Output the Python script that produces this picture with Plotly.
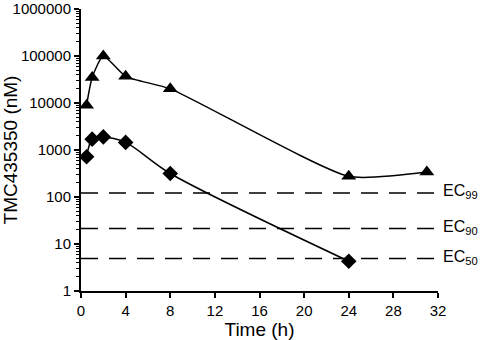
import math
import plotly.graph_objects as go

time_high = [0.5, 1, 2, 4, 8, 24, 31]
conc_high = [9000, 35000, 100000, 37000, 20000, 275, 340]
time_low = [0.5, 1, 2, 4, 8, 24]
conc_low = [720, 1700, 1900, 1450, 316, 4.3]
ec_names = ["EC<sub>99</sub>", "EC<sub>90</sub>", "EC<sub>50</sub>"]
ec_values = [122, 21.5, 4.9]
ec_span = [0, 32]
y_tickvals = [1, 10, 100, 1000, 10000, 100000, 1000000]
y_ticktext = ["1", "10", "100", "1000", "10000", "100000", "1000000"]
y_minor_ticks = [m * 10 ** e for e in range(6) for m in range(2, 10)]
x_tickvals = [0, 4, 8, 12, 16, 20, 24, 28, 32]

fig = go.Figure()
for v in ec_values:
    fig.add_trace(go.Scatter(x=ec_span, y=[v, v], mode="lines",
                             line=dict(color="black", width=1.5, dash="17px,11px"),
                             showlegend=False, hoverinfo="skip"))
fig.add_trace(go.Scatter(x=time_high, y=conc_high, mode="lines+markers",
                         line=dict(color="black", width=1.5, shape="spline", smoothing=0.55),
                         marker=dict(symbol="triangle-up", size=13, color="black"),
                         showlegend=False))
fig.add_trace(go.Scatter(x=time_low, y=conc_low, mode="lines+markers",
                         line=dict(color="black", width=1.5, shape="spline", smoothing=0.8),
                         marker=dict(symbol="diamond", size=12, color="black"),
                         showlegend=False))
for name, v in zip(ec_names, ec_values):
    fig.add_annotation(x=32, y=math.log10(v), yref="y", xref="x", text=name, showarrow=False,
                       xanchor="left", xshift=3, yshift=1,
                       font=dict(family="Liberation Sans, Arial", size=16, color="black"))

fig.update_layout(
    width=480, height=340,
    margin=dict(l=81, r=42, t=9, b=49),
    paper_bgcolor="white", plot_bgcolor="white",
    font=dict(family="Liberation Sans, Arial", size=15, color="black"),
    xaxis=dict(range=[0, 32], tickvals=x_tickvals, showline=True, linecolor="black",
               linewidth=2, ticks="outside", ticklen=5, tickwidth=1.5, tickcolor="black",
               showgrid=False, zeroline=False, automargin=False,
               title=dict(text="Time (h)", font=dict(size=19), standoff=6)),
    yaxis=dict(type="log", range=[0, 6], tickmode="array", tickvals=y_tickvals,
               ticktext=y_ticktext, showline=True, linecolor="black", linewidth=2,
               ticks="outside", ticklen=5, tickwidth=1.5, tickcolor="black",
               showgrid=False, zeroline=False, automargin=False,
               minor=dict(tickmode="array", tickvals=y_minor_ticks, ticks="outside",
                          ticklen=3, tickwidth=1, tickcolor="black", showgrid=False),
               title=dict(text="TMC435350 (nM)", font=dict(size=19), standoff=4)),
)
fig.write_html("out.html")
